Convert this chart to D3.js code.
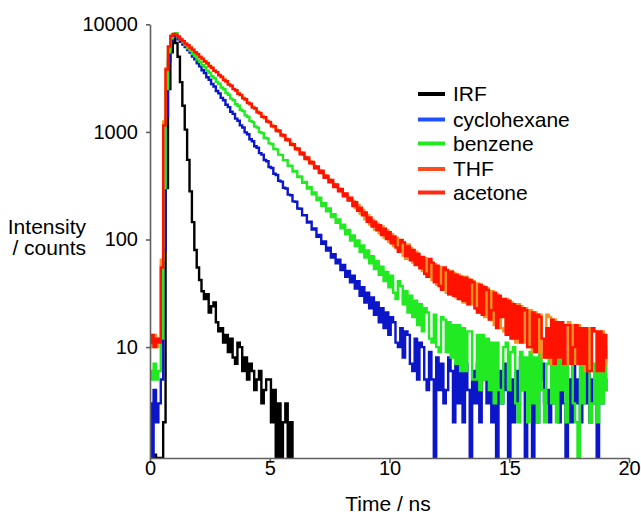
<!DOCTYPE html>
<html><head><meta charset="utf-8">
<script src="https://cdn.jsdelivr.net/npm/d3@7"></script>
<style>
body{margin:0;background:#fff}
svg{display:block}
text{font-family:"Liberation Sans",Arial,Helvetica,sans-serif}
</style>
</head><body><svg id="c" width="641" height="517"></svg>
<script>
// ---- data (counts per 0.1 ns channel) ----
const timeStep = 0.1; // ns per channel
const seriesNames = ["IRF", "cyclohexane", "benzene", "THF", "acetone"];

const irf = [
 0,0,1,0,0,0,2,300,2500,5500,
 7300,6700,5000,2900,1750,1050,550,280,145,80,
 55,42,33,28,31,21,24,26,17,14,
 15,11,13,9,12,8,7,11,10,6,
 8,5,7,6,4,5,6,3,4,5,
 5,2,4,0,3,0,2,3,0,2,
 0];

const cyclohexane = [
 3,0,4,2,3,5,80,1400,4500,7000,
 7900,7700,7250,6880,6470,6150,5760,5450,5020,4720,
 4330,4080,3740,3530,3220,3050,2790,2640,2400,2280,
 2070,1970,1790,1700,1540,1470,1330,1270,1150,1100,
 990,950,855,820,735,712,635,615,548,533,
 472,462,408,398,352,345,303,298,261,258,
 226,224,194,193,168,168,144,146,124,127,
 106,110,91,96,79,84,68,73,60,65,
 52,58,45,51,40,46,35,41,30,36,
 26,32,23,29,20,26,17,23,15,21,
 13,19,17,11,10,15,8,14,13,7,
 6,12,5,11,10,5,4,9,5,0,
 8,4,7,3,4,8,6,2,7,3,
 6,2,7,4,0,6,3,7,2,5,
 8,3,6,2,5,0,6,3,7,4,
 0,5,2,6,3,8,4,0,5,3,
 0,6,2,5,7,3,4,2,6,3,
 5,2,6,3,0,5,2,7,3,5,
 2,6,3,7,2,5,3,0,6,3,
 5,4];

const benzene = [
 6,5,7,5,6,12,300,2500,5500,7400,
 8100,8250,7700,7300,6790,6430,5980,5670,5290,5050,
 4700,4490,4170,3990,3700,3550,3290,3150,2920,2800,
 2590,2490,2300,2215,2040,1970,1810,1750,1605,1560,
 1425,1385,1265,1232,1122,1095,995,975,882,868,
 782,773,694,688,615,612,545,545,483,486,
 428,434,380,385,336,343,297,306,263,273,
 233,244,206,218,183,194,162,172,143,154,
 127,137,112,123,98,109,87,98,77,88,
 68,79,60,70,53,63,47,56,41,50,
 36,46,32,28,41,37,25,33,21,30,
 19,27,16,25,14,23,21,12,11,20,
 10,9,19,18,9,17,8,16,7,16,
 6,15,6,14,14,5,5,13,4,13,
 5,12,4,11,3,11,4,3,10,11,
 4,9,10,3,2,9,4,8,2,9,
 3,8,2,9,4,2,7,8,3,7,
 2,8,4,7,2,8,7,3,2,0,
 8,3,7,9,2,3,7,2,8,3,
 9,4];

const thf = [
 12,10,13,10,12,65,1250,3900,6250,7850,
 8150,7980,7600,7270,6950,6650,6360,6080,5790,5515,
 5252,5002,4764,4537,4321,4115,3919,3733,3555,3386,
 3225,3071,2925,2786,2653,2527,2407,2292,2183,2079,
 1980,1886,1796,1711,1629,1552,1478,1407,1340,1277,
 1216,1158,1103,1050,1000,953,907,864,823,784,
 746,711,677,645,614,585,557,531,505,481,
 458,437,416,396,377,359,342,326,310,296,
 281,268,255,243,232,228,196,208,174,188,
 154,168,138,152,124,140,114,132,104,122,
 95,112,87,104,79,97,71,66,90,83,
 61,77,71,55,51,67,45,63,42,59,
 38,56,35,53,32,31,51,49,29,47,
 28,26,45,43,25,41,23,39,21,37,
 19,35,18,33,16,31,29,15,14,28,
 13,26,12,11,25,24,11,23,10,22,
 9,21,9,20,8,8,20,19,7,18,
 8,17,17,7,7,17,7,16,7,16,
 7,15,6,15,6,15,14,6,6,14,
 7,10];

const acetone = [
 11,13,10,12,11,55,1150,3800,6200,7800,
 8150,7950,7650,7230,6980,6610,6390,6050,5820,5490,
 5290,4960,4800,4510,4350,4080,3950,3700,3590,3360,
 3250,3040,2960,2750,2690,2500,2440,2260,2210,2050,
 2010,1850,1830,1680,1660,1520,1500,1380,1370,1250,
 1240,1130,1130,1020,1030,925,935,840,850,760,
 770,690,700,620,640,560,580,510,525,460,
 478,415,435,375,392,340,358,308,324,280,
 295,252,268,230,244,205,222,185,198,168,
 178,146,160,132,146,122,136,110,126,101,
 117,92,107,84,77,99,94,70,86,64,
 80,58,74,54,69,48,45,66,61,40,
 57,37,34,55,52,31,50,30,47,28,
 45,27,44,25,42,40,23,21,38,20,
 36,34,18,22,32,15,30,19,28,13,
 27,12,25,12,24,11,23,22,10,10,
 21,9,20,19,12,8,15,8,18,7,
 17,8,17,7,16,16,7,10,16,7,
 15,7,15,6,6,15,14,6,14,6,
 13,8];

const xTicks = [0, 5, 10, 15, 20];
const yTicks = [10, 100, 1000, 10000];

// ---- styles ----
const lineColors = ["#000000", "#0a16c8", "#22ea22", "#f7921e", "#ff1200"];
const legendColors = ["#000000", "#1e50ff", "#22ea22", "#ff4a1e", "#ff2a10"];
const axisColor = "#606060";
const FONT = '"Liberation Sans",Arial,Helvetica,sans-serif';

const svg = d3.select("#c");
const x = d3.scaleLinear().domain([0, 20]).range([150, 629]);
const yMin = 0.932;
const y = d3.scaleLog().domain([yMin, 10000]).range([458, 24.3]).clamp(true);

svg.append("defs").append("clipPath").attr("id", "clip")
  .append("rect").attr("x", 150).attr("y", 20).attr("width", 481).attr("height", 438);

const series = [irf, cyclohexane, benzene, thf, acetone];
const line = d3.line()
  .x(d => x(d[0]))
  .y(d => y(Math.max(d[1], yMin)))
  .curve(d3.curveStep);

const g = svg.append("g").attr("clip-path", "url(#clip)");
series.forEach((vals, k) => {
  const pts = vals.map((v, i) => [i * timeStep, v]);
  g.append("path").datum(pts)
    .attr("d", line)
    .attr("fill", "none")
    .attr("stroke", lineColors[k])
    .attr("stroke-width", 2.4)
    .attr("stroke-linejoin", "miter");
});

// axes
const xAxis = svg.append("g").attr("transform", "translate(0,458)")
  .call(d3.axisBottom(x).tickValues(xTicks).tickSize(5).tickSizeOuter(0).tickFormat(d3.format("d")));
xAxis.selectAll("text").attr("y", 17).attr("dy", null);

const yAxis = svg.append("g").attr("transform", "translate(150,0)")
  .call(d3.axisLeft(y).tickValues(yTicks).tickSize(4).tickPadding(8).tickSizeOuter(0).tickFormat(d3.format("d")));

[xAxis, yAxis].forEach(a => {
  a.select(".domain").attr("stroke", axisColor).attr("stroke-width", 1.6);
  a.selectAll(".tick line").attr("stroke", axisColor).attr("stroke-width", 1.6);
  a.selectAll("text").attr("fill", "#000").style("font-size", "20px").style("font-family", FONT);
});

// axis titles
svg.append("text").attr("x", 388).attr("y", 511).attr("text-anchor", "middle")
  .style("font-size", "21px").text("Time / ns");
svg.append("text").attr("x", 86).attr("y", 234).attr("text-anchor", "end")
  .style("font-size", "21px").text("Intensity");
svg.append("text").attr("x", 86).attr("y", 255).attr("text-anchor", "end")
  .style("font-size", "21px").text("/ counts");

// legend
const legendY = [94, 119.5, 143.5, 169, 192.5];
seriesNames.forEach((name, k) => {
  svg.append("line").attr("x1", 418).attr("x2", 445)
    .attr("y1", legendY[k]).attr("y2", legendY[k])
    .attr("stroke", legendColors[k]).attr("stroke-width", 4);
  svg.append("text").attr("x", 453).attr("y", legendY[k]).attr("dy", "0.35em")
    .style("font-size", "21px").text(name);
});
</script>
</body></html>
